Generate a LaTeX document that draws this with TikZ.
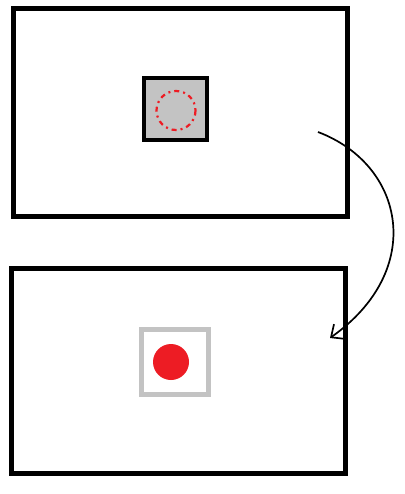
\documentclass[tikz,border=0pt]{standalone}
\usetikzlibrary{arrows.meta}
\definecolor{paintred}{RGB}{237,28,36}
\definecolor{paintgray}{RGB}{195,195,195}
\tikzset{
  frame/.style={draw=black, line width=5pt},
  pitbox/.style={draw=black, fill=paintgray, line width=4pt},
  holebox/.style={draw=paintgray, line width=4.5pt},
  ghost/.style={draw=paintred, line width=2.2pt, dash pattern=on 5pt off 4pt on 2pt off 4pt},
  ball/.style={fill=paintred},
  flow/.style={draw=black, line width=1.7pt, -{Straight Barb[length=10pt,width=18pt,line width=1.7pt]}}
}
\begin{document}
\begin{tikzpicture}[x=1pt,y=-1pt]
\useasboundingbox (0,0) rectangle (404,494);
\fill[white] (0,0) rectangle (404,494);
% top frame
\draw[frame] (13.5,9) rectangle (347,216);
\draw[pitbox] (144,78) rectangle (207,140);
\draw[ghost] (176,110.5) circle (19.5);
% bottom frame
\draw[frame] (11.5,268) rectangle (345,473.5);
\draw[holebox] (141.5,329.5) rectangle (208.5,394.5);
\fill[ball] (171,362) circle (18);
% arrow
\coordinate (s) at (318,132);
\coordinate (e) at (330,338);
\draw[flow] (s) .. controls (405,165) and (426,270) .. (e);
\end{tikzpicture}
\end{document}
